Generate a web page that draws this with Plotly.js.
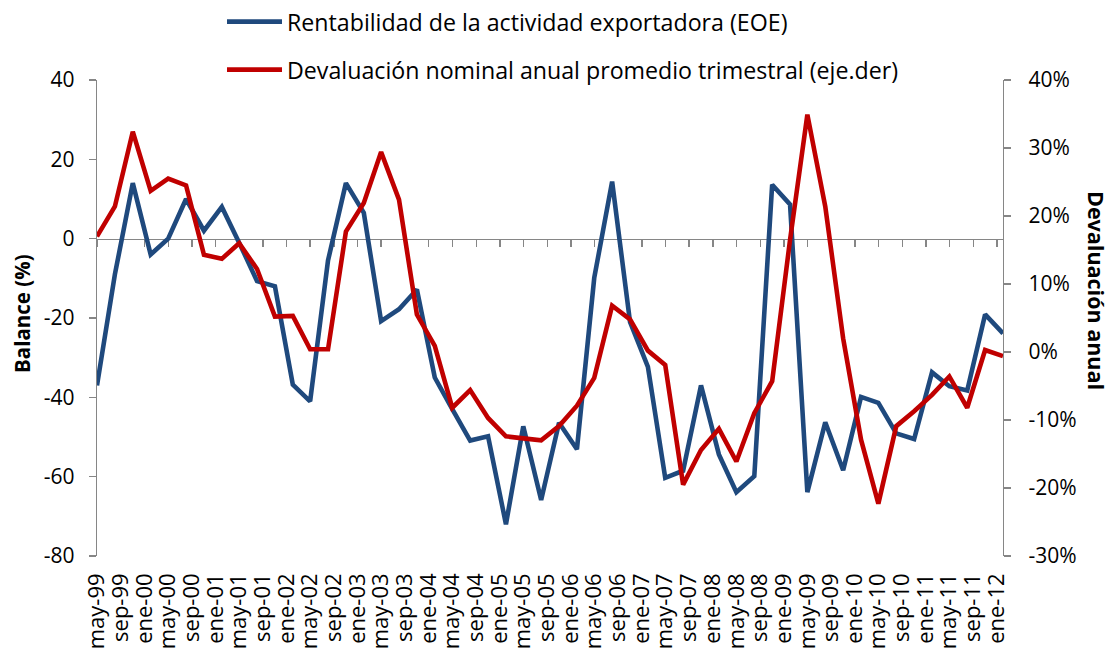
<!DOCTYPE html>
<html>
<head>
<meta charset="utf-8">
<script src="https://cdn.plot.ly/plotly-3.0.1.min.js"></script>
<style>
  html, body { margin: 0; padding: 0; background: #ffffff; }
  #chart { width: 1112px; height: 654px; }
</style>
</head>
<body>
<div id="chart"></div>
<script>
// Quarterly observation dates
const dates = [
  '1999-05-01','1999-08-01','1999-11-01','2000-02-01','2000-05-01','2000-08-01','2000-11-01',
  '2001-02-01','2001-05-01','2001-08-01','2001-11-01','2002-02-01','2002-05-01','2002-08-01',
  '2002-11-01','2003-02-01','2003-05-01','2003-08-01','2003-11-01','2004-02-01','2004-05-01',
  '2004-08-01','2004-11-01','2005-02-01','2005-05-01','2005-08-01','2005-11-01','2006-02-01',
  '2006-05-01','2006-08-01','2006-11-01','2007-02-01','2007-05-01','2007-08-01','2007-11-01',
  '2008-02-01','2008-05-01','2008-08-01','2008-11-01','2009-02-01','2009-05-01','2009-08-01',
  '2009-11-01','2010-02-01','2010-05-01','2010-08-01','2010-11-01','2011-02-01','2011-05-01',
  '2011-08-01','2011-11-01','2012-02-01'
];

// Rentabilidad de la actividad exportadora (EOE), balance %
const rentabilidad = [
  -37, -9, 14, -4, 0, 10, 2, 8, -1, -10.7, -12, -36.8, -41, -5.5,
  14, 6.5, -20.8, -17.8, -12.8, -35, -43, -50.9, -49.8, -72, -47.3, -65.9,
  -46.4, -53.1, -9.9, 14.4, -21, -32.3, -60.3, -58.5, -37, -54.4, -63.9, -59.9,
  13.6, 8.6, -63.9, -46.3, -58.4, -39.9, -41.4, -49.1, -50.5, -33.7, -37.2, -38.3,
  -19.1, -23.9
];

// Devaluación nominal anual promedio trimestral, %
const devaluacion = [
  17.0, 21.4, 32.4, 23.7, 25.5, 24.5, 14.3, 13.7, 16.0, 12.2, 5.2, 5.3, 0.4, 0.4,
  17.7, 21.9, 29.4, 22.4, 5.5, 0.9, -8.2, -5.6, -9.7, -12.4, -12.7, -13.0,
  -10.9, -7.9, -3.8, 6.8, 4.8, 0.2, -1.9, -19.5, -14.4, -11.3, -16.1, -9.0,
  -4.3, 16.5, 34.9, 21.4, 2.0, -12.9, -22.3, -10.9, -8.7, -6.3, -3.6, -8.2,
  0.3, -0.6
];

// Axis ticks
const xTickVals = [
  '1999-05-01','1999-09-01','2000-01-01','2000-05-01','2000-09-01','2001-01-01','2001-05-01',
  '2001-09-01','2002-01-01','2002-05-01','2002-09-01','2003-01-01','2003-05-01','2003-09-01',
  '2004-01-01','2004-05-01','2004-09-01','2005-01-01','2005-05-01','2005-09-01','2006-01-01',
  '2006-05-01','2006-09-01','2007-01-01','2007-05-01','2007-09-01','2008-01-01','2008-05-01',
  '2008-09-01','2009-01-01','2009-05-01','2009-09-01','2010-01-01','2010-05-01','2010-09-01',
  '2011-01-01','2011-05-01','2011-09-01','2012-01-01'
];
const xTickText = [
  'may-99','sep-99','ene-00','may-00','sep-00','ene-01','may-01','sep-01','ene-02','may-02',
  'sep-02','ene-03','may-03','sep-03','ene-04','may-04','sep-04','ene-05','may-05','sep-05',
  'ene-06','may-06','sep-06','ene-07','may-07','sep-07','ene-08','may-08','sep-08','ene-09',
  'may-09','sep-09','ene-10','may-10','sep-10','ene-11','may-11','sep-11','ene-12'
];
const leftTicks = [-80, -60, -40, -20, 0, 20, 40];
const leftTickText = ['-80', '-60', '-40', '-20', '0', '20', '40'];
const rightTicks = [-30, -20, -10, 0, 10, 20, 30, 40];
const rightTickText = ['-30%','-20%','-10%','0%','10%','20%','30%','40%'];

const seriesNames = [
  'Rentabilidad de la actividad exportadora (EOE)',
  'Devaluación nominal anual promedio trimestral (eje.der)'
];

const FONT = '"Open Sans", Lato, sans-serif';
const AXIS_GRAY = '#868686';
const xRange = ['1999-05-01', '2012-02-01'];

const traces = [
  {
    x: dates, y: rentabilidad, type: 'scatter', mode: 'lines',
    name: seriesNames[0],
    line: { color: '#1F497D', width: 4.6 },
    xaxis: 'x', yaxis: 'y', legend: 'legend'
  },
  {
    x: dates, y: devaluacion, type: 'scatter', mode: 'lines',
    name: seriesNames[1],
    line: { color: '#C00000', width: 4.6 },
    xaxis: 'x2', yaxis: 'y2', legend: 'legend2'
  }
];

const legendCommon = {
  xref: 'container', yref: 'container',
  xanchor: 'left', yanchor: 'top', bgcolor: 'rgba(0,0,0,0)',
  font: { family: FONT, size: 23.2, color: '#000' }, itemwidth: 55
};

const layout = {
  width: 1112, height: 654,
  margin: { l: 97, r: 109, t: 80, b: 98, autoexpand: false },
  paper_bgcolor: '#ffffff', plot_bgcolor: 'rgba(0,0,0,0)',
  font: { family: FONT, color: '#000000', size: 20 },
  showlegend: true,
  xaxis: {
    type: 'date', range: xRange,
    tickvals: xTickVals, ticktext: xTickText,
    tickangle: -90, showgrid: false, zeroline: false, showline: false,
    ticks: '', ticklabelstandoff: 12, automargin: false,
    tickfont: { family: FONT, size: 22, color: '#000' }
  },
  xaxis2: {
    type: 'date', range: xRange, overlaying: 'x', anchor: 'free', position: 2/3,
    tickvals: xTickVals, showticklabels: false,
    showgrid: false, zeroline: false, showline: true, linecolor: AXIS_GRAY, linewidth: 1.3,
    ticks: 'outside', ticklen: 7, tickcolor: AXIS_GRAY, tickwidth: 1.3,
    layer: 'below traces'
  },
  yaxis: {
    range: [-80, 40], tickvals: leftTicks, ticktext: leftTickText,
    showgrid: false, zeroline: false, showline: true, linecolor: AXIS_GRAY, linewidth: 1.3,
    ticks: 'outside', ticklen: 7, tickcolor: AXIS_GRAY, tickwidth: 1.3,
    ticklabelstandoff: 10, automargin: false,
    tickfont: { family: FONT, size: 21, color: '#000' }
  },
  yaxis2: {
    range: [-30, 40], tickvals: rightTicks, ticktext: rightTickText,
    overlaying: 'y', side: 'right', anchor: 'x',
    showgrid: false, zeroline: false, showline: true, linecolor: AXIS_GRAY, linewidth: 1.3,
    ticks: 'outside', ticklen: 7, tickcolor: AXIS_GRAY, tickwidth: 1.3,
    ticklabelstandoff: 13, automargin: false,
    tickfont: { family: FONT, size: 21, color: '#000' }
  },
  legend: Object.assign({}, legendCommon, { x: 222/1112, y: 1 - 0/654 }),
  legend2: Object.assign({}, legendCommon, { x: 222/1112, y: 1 - 48/654 }),
  annotations: [
    {
      text: '<b>Balance (%)</b>', xref: 'paper', yref: 'paper',
      x: (22 - 97) / 906, y: (556 - 314) / 476, xanchor: 'center', yanchor: 'middle',
      textangle: -90, showarrow: false, font: { family: FONT, size: 20.5, color: '#000' }
    },
    {
      text: '<b>Devaluación anual</b>', xref: 'paper', yref: 'paper',
      x: (1097 - 97) / 906, y: (556 - 290) / 476, xanchor: 'center', yanchor: 'middle',
      textangle: 90, showarrow: false, font: { family: FONT, size: 21.5, color: '#000' }
    }
  ]
};

Plotly.newPlot('chart', traces, layout, { displayModeBar: false, staticPlot: true });
</script>
</body>
</html>
